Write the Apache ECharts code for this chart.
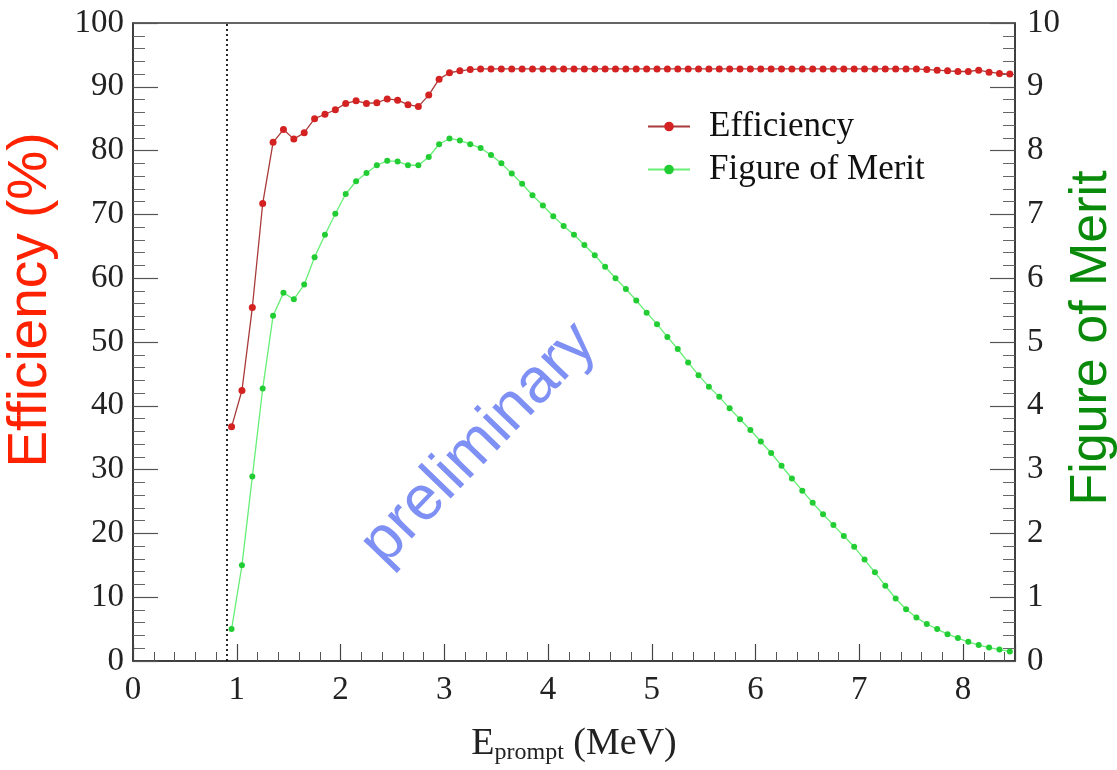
<!DOCTYPE html>
<html>
<head>
<meta charset="utf-8">
<script src="https://cdn.jsdelivr.net/npm/echarts@6/dist/echarts.min.js"></script>
<style>
html,body{margin:0;padding:0;background:#fff;}
#chart{width:1117px;height:770px;}
</style>
</head>
<body>
<div id="chart"></div>
<script>
// ---- data ----
const energy = [0.95,1.05,1.15,1.25,1.35,1.45,1.55,1.65,1.75,1.85,1.95,2.05,2.15,2.25,2.35,2.45,2.55,2.65,2.75,2.85,2.95,3.05,3.15,3.25,3.35,3.45,3.55,3.65,3.75,3.85,3.95,4.05,4.15,4.25,4.35,4.45,4.55,4.65,4.75,4.85,4.95,5.05,5.15,5.25,5.35,5.45,5.55,5.65,5.75,5.85,5.95,6.05,6.15,6.25,6.35,6.45,6.55,6.65,6.75,6.85,6.95,7.05,7.15,7.25,7.35,7.45,7.55,7.65,7.75,7.85,7.95,8.05,8.15,8.25,8.35,8.45];
const efficiency = [36.7,42.4,55.4,71.7,81.3,83.3,81.8,82.8,85.0,85.7,86.4,87.4,87.8,87.4,87.5,88.1,87.9,87.2,86.9,88.7,91.2,92.2,92.5,92.7,92.8,92.8,92.8,92.8,92.8,92.8,92.8,92.8,92.8,92.8,92.8,92.8,92.8,92.8,92.8,92.8,92.8,92.8,92.8,92.8,92.8,92.8,92.8,92.8,92.8,92.8,92.8,92.8,92.8,92.8,92.8,92.8,92.8,92.8,92.8,92.8,92.8,92.8,92.8,92.8,92.8,92.8,92.8,92.7,92.6,92.5,92.4,92.4,92.6,92.3,92.1,92.0];
const figureOfMerit = [0.50,1.50,2.89,4.27,5.41,5.77,5.67,5.90,6.33,6.68,7.01,7.32,7.52,7.65,7.77,7.84,7.83,7.77,7.77,7.90,8.10,8.19,8.16,8.10,8.04,7.93,7.80,7.64,7.48,7.30,7.14,6.97,6.82,6.68,6.52,6.36,6.18,6.00,5.83,5.65,5.46,5.28,5.08,4.89,4.68,4.48,4.30,4.14,3.96,3.79,3.62,3.44,3.26,3.06,2.86,2.67,2.48,2.30,2.13,1.96,1.79,1.59,1.39,1.18,0.98,0.81,0.68,0.58,0.50,0.42,0.36,0.30,0.25,0.21,0.18,0.15];
const cutEnergy = 0.9;
const seriesNames = ['Efficiency','Figure of Merit'];
const titles = {x:'E', xSub:'prompt', xUnit:' (MeV)', yLeft:'Efficiency (%)', yRight:'Figure of Merit', watermark:'preliminary'};

const effPairs = energy.map((e,i)=>[e,efficiency[i]]);
const fomPairs = energy.map((e,i)=>[e,figureOfMerit[i]]);

const serif = '"Liberation Serif","DejaVu Serif",serif';
const sans = '"Liberation Sans",Arial,sans-serif';

const chart = echarts.init(document.getElementById('chart'));
const option = {
  backgroundColor:'#fff',
  animation:false,
  grid:{left:133,right:102,top:23,bottom:109,show:true,borderColor:'#333',borderWidth:1.5,backgroundColor:'transparent',outerBoundsMode:'none',containLabel:false},
  legend:{
    orient:'vertical', left:642, top:104, itemGap:8, itemWidth:42, itemHeight:12,
    textStyle:{fontFamily:serif,fontSize:35,color:'#111',padding:[0,0,0,14]},
    data:seriesNames
  },
  xAxis:{
    type:'value', min:0, max:8.5, interval:1,
    name:'{a|'+titles.x+'}{b|'+titles.xSub+'}{a|'+titles.xUnit+'}',
    nameLocation:'middle', nameGap:62,
    nameTextStyle:{rich:{
      a:{fontFamily:serif,fontSize:38,color:'#222',lineHeight:42},
      b:{fontFamily:serif,fontSize:24,color:'#222',lineHeight:42,verticalAlign:'bottom',padding:[15,0,0,0]}
    }},
    axisLine:{show:true,lineStyle:{color:'#333',width:1.5}},
    axisTick:{show:true,inside:true,length:17,lineStyle:{color:'#444',width:1.2}},
    minorTick:{show:true,splitNumber:5,length:9,lineStyle:{color:'#555',width:1}},
    axisLabel:{fontFamily:serif,fontSize:33,color:'#222',margin:13,showMaxLabel:false},
    splitLine:{show:false}
  },
  yAxis:[{
    type:'value', min:0, max:100, interval:10, position:'left',
    axisLine:{show:true,lineStyle:{color:'#333',width:1.5}},
    axisTick:{show:true,inside:true,length:25,lineStyle:{color:'#555',width:1.2}},
    minorTick:{show:true,splitNumber:5,length:12,lineStyle:{color:'#666',width:1}},
    axisLabel:{fontFamily:serif,fontSize:33,color:'#222',margin:9},
    splitLine:{show:false}
  },{
    type:'value', min:0, max:10, interval:1, position:'right',
    axisLine:{show:true,lineStyle:{color:'#333',width:1.5}},
    axisTick:{show:true,inside:true,length:25,lineStyle:{color:'#555',width:1.2}},
    minorTick:{show:true,splitNumber:5,length:12,lineStyle:{color:'#666',width:1}},
    axisLabel:{fontFamily:serif,fontSize:33,color:'#222',margin:12},
    splitLine:{show:false}
  }],
  series:[{
    name:seriesNames[0], type:'line', yAxisIndex:0, data:effPairs,
    symbol:'circle', symbolSize:7, showSymbol:true,
    itemStyle:{color:'#d42222'}, lineStyle:{color:'#a83a3a',width:1.3},
    markLine:{
      silent:true, symbol:'none', label:{show:false},
      lineStyle:{color:'#111',type:[2,3],width:1.8},
      data:[{xAxis:cutEnergy}]
    },
    z:3
  },{
    name:seriesNames[1], type:'line', yAxisIndex:1, data:fomPairs,
    symbol:'circle', symbolSize:6, showSymbol:true,
    itemStyle:{color:'#22cc33'}, lineStyle:{color:'#66ee77',width:1.3},
    z:2
  }],
  graphic:[{
    type:'text', x:479, y:444, rotation:46*Math.PI/180,
    style:{text:titles.watermark, fontFamily:sans, fontSize:63, fill:'#7f90f5', textAlign:'center', textVerticalAlign:'middle'},
    z:10
  },{
    type:'text', x:31, y:300, rotation:Math.PI/2,
    style:{text:titles.yLeft, fontFamily:sans, fontSize:55, fill:'#ff2200', textAlign:'center', textVerticalAlign:'middle'}
  },{
    type:'text', x:1092, y:338, rotation:Math.PI/2,
    style:{text:titles.yRight, fontFamily:sans, fontSize:52, fill:'#0a8a0a', textAlign:'center', textVerticalAlign:'middle'}
  }]
};
chart.setOption(option);
</script>
</body>
</html>
